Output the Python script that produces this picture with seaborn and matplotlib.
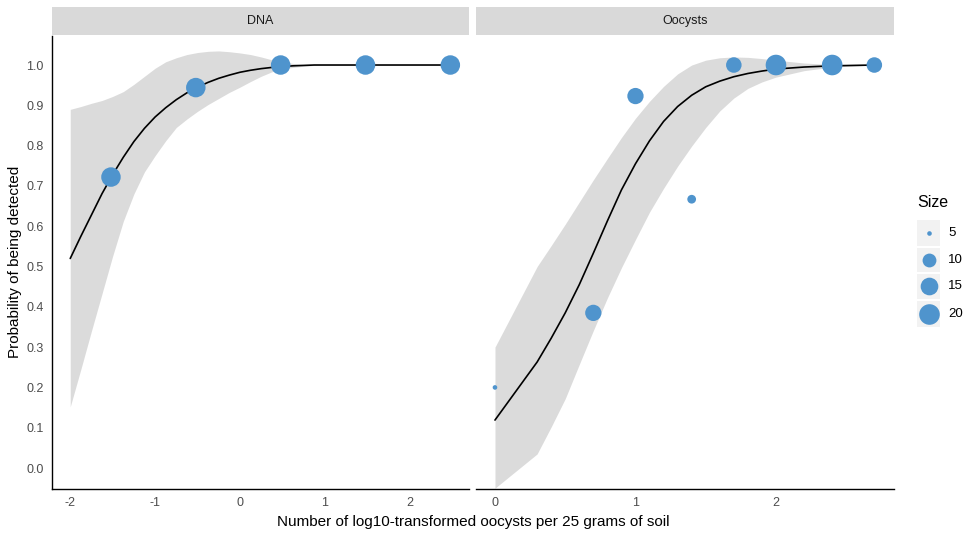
import numpy as np
import pandas as pd
import matplotlib
matplotlib.use("Agg")
import matplotlib.pyplot as plt
from matplotlib.patches import Rectangle
from matplotlib.lines import Line2D
import seaborn as sns

# ---- observed detection proportions (log10 oocysts per 25 g soil) ----
dna_x = [-1.52, -0.52, 0.48, 1.48, 2.48]
dna_p = [0.722, 0.944, 1.0, 1.0, 1.0]
dna_n = [18, 18, 18, 18, 18]

oo_x = [0.0, 0.70, 1.0, 1.40, 1.70, 2.0, 2.40, 2.70]
oo_p = [0.20, 0.385, 0.923, 0.667, 1.0, 1.0, 1.0, 1.0]
oo_n = [5, 13, 13, 6, 12, 20, 20, 12]

# ---- fitted logistic curves with confidence band ----
dna_fit_x = [-2.0, -1.875, -1.75, -1.625, -1.5, -1.375, -1.25, -1.125, -1.0,
             -0.875, -0.75, -0.625, -0.5, -0.375, -0.25, -0.125, 0.0, 0.125,
             0.25, 0.375, 0.5, 0.625, 0.75, 0.875, 1.0, 1.5, 2.0, 2.5]
dna_fit = [0.52, 0.575, 0.628, 0.681, 0.728, 0.771, 0.81, 0.843, 0.871,
           0.894, 0.914, 0.931, 0.945, 0.957, 0.967, 0.975, 0.982, 0.987,
           0.991, 0.994, 0.996, 0.998, 0.999, 1.0, 1.0, 1.0, 1.0, 1.0]
dna_lo = [0.152, 0.245, 0.34, 0.433, 0.526, 0.612, 0.68, 0.735, 0.775,
          0.812, 0.845, 0.866, 0.885, 0.902, 0.917, 0.932, 0.945, 0.959,
          0.972, 0.983, 0.99, 0.994, 0.997, 0.999, 1.0, 1.0, 1.0, 1.0]
dna_hi = [0.89, 0.897, 0.905, 0.912, 0.922, 0.934, 0.952, 0.972, 0.992,
          1.008, 1.018, 1.026, 1.031, 1.034, 1.035, 1.033, 1.03, 1.026,
          1.02, 1.013, 1.008, 1.004, 1.001, 1.0, 1.0, 1.0, 1.0, 1.0]

oo_fit_x = [0.0, 0.3, 0.4, 0.5, 0.6, 0.7, 0.8, 0.9, 1.0, 1.1, 1.2, 1.3, 1.4,
            1.5, 1.6, 1.7, 1.8, 1.9, 2.0, 2.2, 2.4, 2.7]
oo_fit = [0.119, 0.263, 0.322, 0.385, 0.455, 0.533, 0.613, 0.69, 0.755, 0.812,
          0.86, 0.897, 0.925, 0.946, 0.96, 0.971, 0.979, 0.985, 0.99, 0.995,
          0.998, 1.0]
oo_lo = [-0.05, 0.035, 0.102, 0.172, 0.257, 0.341, 0.422, 0.497, 0.567, 0.635,
         0.694, 0.749, 0.799, 0.845, 0.886, 0.918, 0.942, 0.958, 0.97, 0.986,
         0.995, 1.0]
oo_hi = [0.30, 0.50, 0.552, 0.605, 0.66, 0.715, 0.768, 0.82, 0.868, 0.91,
         0.947, 0.978, 1.0, 1.012, 1.018, 1.02, 1.019, 1.016, 1.012, 1.005,
         1.001, 1.0]

panels = ["DNA", "Oocysts"]
size_breaks = [5, 10, 15, 20]

# ---- styling ----
sns.set_style("white")
plt.rcParams["font.family"] = ["Liberation Sans", "DejaVu Sans"]

W, H, DPI = 968, 534, 100
PT = 72.0 / DPI  # points per pixel
POINT_COLOR = "#4F94CD"
BAND_COLOR = "#999999"


def diam_px(n):
    # area-style size scale between 5 and 20
    t = np.clip((n - 5) / 15.0, 0, 1)
    return 4.6 + 16.0 * np.sqrt(t)


size_map = {n: (diam_px(n) * PT) ** 2 for n in sorted(set(dna_n + oo_n + size_breaks))}

fig = plt.figure(figsize=(W / DPI, H / DPI), dpi=DPI)


def fx(px):
    return px / W


def fy(py):
    return 1 - py / H


panel_px = {"DNA": (52, 469), "Oocysts": (476, 894)}
top_px, bot_px = 36, 489
strip_top, strip_bot = 7, 35
xlims = {"DNA": (-2.215, 2.70), "Oocysts": (-0.135, 2.84)}
xticks = {"DNA": [-2, -1, 0, 1, 2], "Oocysts": [0, 1, 2]}

frames = {
    "DNA": (pd.DataFrame({"x": dna_x, "p": dna_p, "Size": dna_n}),
            pd.DataFrame({"x": dna_fit_x, "fit": dna_fit, "lo": dna_lo, "hi": dna_hi})),
    "Oocysts": (pd.DataFrame({"x": oo_x, "p": oo_p, "Size": oo_n}),
                pd.DataFrame({"x": oo_fit_x, "fit": oo_fit, "lo": oo_lo, "hi": oo_hi})),
}

for i, name in enumerate(panels):
    l, r = panel_px[name]
    ax = fig.add_axes([fx(l), fy(bot_px), fx(r - l), (bot_px - top_px) / H])
    pts, fit = frames[name]

    ax.fill_between(fit["x"], fit["lo"], fit["hi"], color=BAND_COLOR, alpha=0.35,
                    linewidth=0, zorder=1)
    sns.lineplot(data=fit, x="x", y="fit", ax=ax, color="black", linewidth=1.2,
                 zorder=2, legend=False)
    sns.scatterplot(data=pts, x="x", y="p", size="Size", sizes=size_map, ax=ax,
                    color=POINT_COLOR, linewidth=0, alpha=1, zorder=3, legend=False)

    ax.set_xlim(*xlims[name])
    ax.set_ylim(-0.052, 1.072)
    ax.set_xticks(xticks[name])
    ax.set_xticklabels([str(t) for t in xticks[name]])
    ax.set_xlabel("")
    ax.set_ylabel("")
    for s in ["top", "right"]:
        ax.spines[s].set_visible(False)
    ax.spines["bottom"].set_color("black")
    ax.spines["bottom"].set_linewidth(1.0)
    if i == 0:
        ax.set_yticks(np.round(np.arange(0, 1.01, 0.1), 1))
        ax.set_yticklabels([f"{v:.1f}" for v in np.arange(0, 1.01, 0.1)])
        ax.spines["left"].set_color("black")
        ax.spines["left"].set_linewidth(1.0)
        ax.tick_params(axis="y", length=3.0, width=0.7, color="#333333",
                       labelsize=9, labelcolor="#4D4D4D", pad=3.0, direction="out")
    else:
        ax.spines["left"].set_visible(False)
        ax.set_yticks([])
    ax.tick_params(axis="x", length=3.0, width=0.7, color="#333333",
                   labelsize=9, labelcolor="#4D4D4D", pad=2.5, direction="out")
    ax.set_facecolor("white")

    # facet strip
    sax = fig.add_axes([fx(l), fy(strip_bot), fx(r - l), (strip_bot - strip_top) / H])
    sax.set_facecolor("#D9D9D9")
    sax.set_xticks([])
    sax.set_yticks([])
    for s in sax.spines.values():
        s.set_visible(False)
    sax.text(0.5, 0.5, name, ha="center", va="center", fontsize=9,
             color="#1A1A1A", transform=sax.transAxes)

# axis titles
fig.text(fx(473), fy(522), "Number of log10-transformed oocysts per 25 grams of soil",
         ha="center", va="center", fontsize=11, color="black")
fig.text(fx(15), fy(262), "Probability of being detected", rotation=90,
         ha="center", va="center", fontsize=11, color="black")

# size legend
fig.text(fx(917), fy(203), "Size", ha="left", va="center", fontsize=11.5, color="black")
rows = [(220, 245.5), (247.5, 272), (273.5, 298.5), (300.5, 327)]
for n, (t, b) in zip(size_breaks, rows):
    fig.add_artist(Rectangle((fx(917), fy(b)), fx(23), (b - t) / H,
                             transform=fig.transFigure, facecolor="#F2F2F2",
                             edgecolor="none"))
    cy = (t + b) / 2
    fig.add_artist(Line2D([fx(928.5)], [fy(cy)], transform=fig.transFigure,
                          marker="o", linestyle="none", markersize=diam_px(n) * PT,
                          markerfacecolor=POINT_COLOR, markeredgewidth=0))
    fig.text(fx(948), fy(cy), str(n), ha="left", va="center", fontsize=9.5,
             color="black")

fig.savefig("out.png", dpi=DPI)
